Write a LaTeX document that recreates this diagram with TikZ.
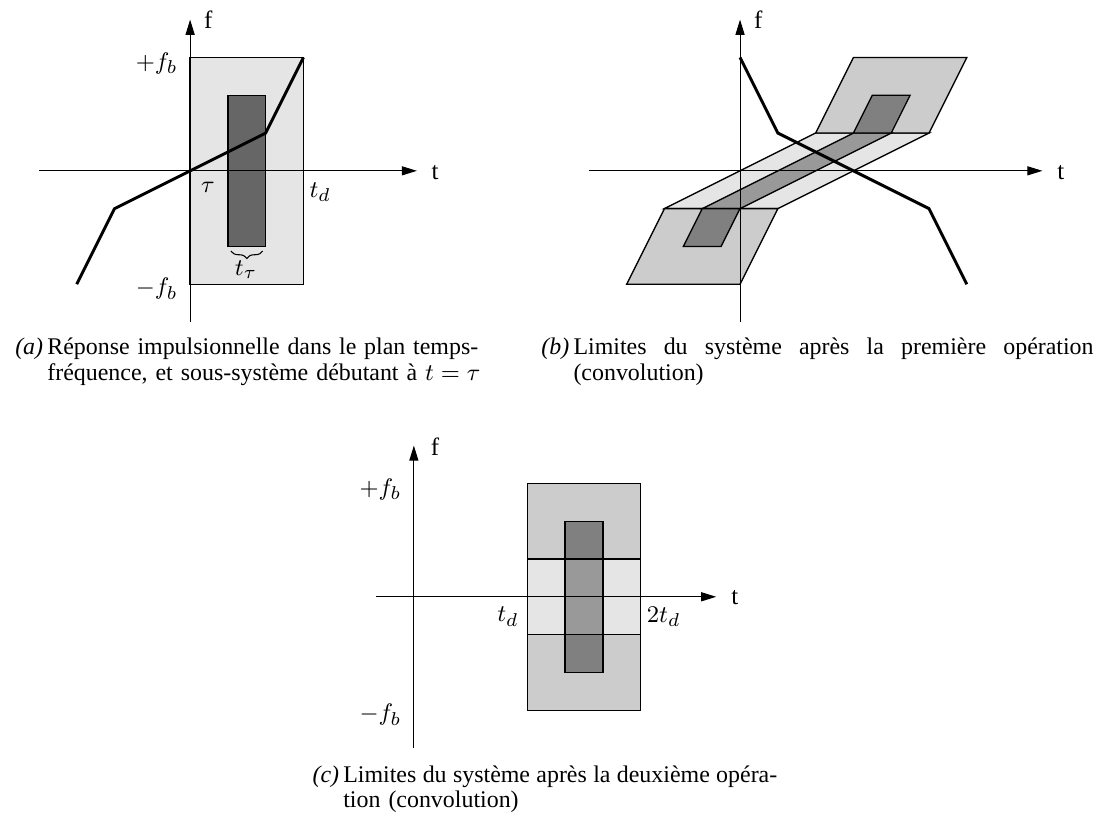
\documentclass[tikz,border=0pt]{standalone}
\usepackage{fontspec}
\setmainfont{Liberation Serif}
\usetikzlibrary{arrows.meta, decorations.pathreplacing}
\definecolor{bandgray}{gray}{0.9}
\definecolor{midgray}{gray}{0.8}
\definecolor{stripgray}{gray}{0.6}
\definecolor{darkgray}{gray}{0.5}
\definecolor{deepgray}{gray}{0.4}
\newcommand{\fullline}[2]{\makebox[#1][s]{\spaceskip=0pt\xspaceskip=0pt\relax #2}}

\begin{document}
\begin{tikzpicture}[
    x=0.5cm, y=0.5cm,
    axis/.style={-{Triangle[length=2mm, width=1.2mm]}},
    zone/.style={draw, line width=0.5pt},
    resp/.style={line width=1.1pt},
    lbl/.style={inner sep=1pt, font=\fontsize{9.4}{11}\selectfont},
    captext/.style={inner sep=0pt, anchor=base west, align=left,
                font=\fontsize{9}{9.5}\selectfont},
    captag/.style={inner sep=0pt, anchor=base east,
                font=\fontsize{9}{9.5}\selectfont\itshape}
  ]
  \useasboundingbox (0,0) rectangle (29.13,-21.77);

  \begin{scope}[shift={(5.03,-4.52)}]
    \filldraw[zone, fill=bandgray] (0,-3) rectangle (3,3);
    \filldraw[zone, fill=deepgray] (1,-2) rectangle (2,2);
    \draw[axis] (-4,0) -- (6,0);
    \draw[axis] (0,-4) -- (0,4);
    \draw[resp] (-3,-3) -- (-2,-1) -- (2,1) -- (3,3);
    \draw[decorate, decoration={brace, mirror, amplitude=1mm}]
      (1.08,-2.12) -- (1.92,-2.12);
    \node[lbl] (fa) at (0.48,4) {f};
    \node[lbl] (ta) at (6.48,-0.05) {t};
    \node[lbl, anchor=east] (fbpa) at (-0.25,2.85) {$+f_b$};
    \node[lbl, anchor=east] (fbma) at (-0.25,-3.12) {$-f_b$};
    \node[lbl] (taua) at (0.47,-0.45) {$\tau$};
    \node[lbl] (tda) at (3.44,-0.56) {$t_d$};
    \node[lbl] (ttau) at (1.48,-2.62) {$t_\tau$};
  \end{scope}

  \begin{scope}[shift={(19.58,-4.52)}]
    \filldraw[zone, fill=bandgray] (-2,-1) -- (1,-1) -- (5,1) -- (2,1) -- cycle;
    \filldraw[zone, fill=midgray] (-3,-3) -- (0,-3) -- (1,-1) -- (-2,-1) -- cycle;
    \filldraw[zone, fill=midgray] (2,1) -- (5,1) -- (6,3) -- (3,3) -- cycle;
    \filldraw[zone, fill=stripgray] (-1,-1) -- (0,-1) -- (4,1) -- (3,1) -- cycle;
    \filldraw[zone, fill=darkgray] (-1.5,-2) -- (-0.5,-2) -- (0,-1) -- (-1,-1) -- cycle;
    \filldraw[zone, fill=darkgray] (3,1) -- (4,1) -- (4.5,2) -- (3.5,2) -- cycle;
    \draw[axis] (-4,0) -- (8,0);
    \draw[axis] (0,-4) -- (0,4);
    \draw[resp] (0,3) -- (1,1) -- (5,-1) -- (6,-3);
    \node[lbl] (fb) at (0.48,4) {f};
    \node[lbl] (tb) at (8.49,-0.05) {t};
  \end{scope}

  \begin{scope}[shift={(10.95,-15.79)}]
    \filldraw[zone, fill=midgray] (3,-3) rectangle (6,3);
    \filldraw[zone, fill=bandgray] (3,-1) rectangle (6,1);
    \filldraw[zone, fill=darkgray] (4,-2) rectangle (5,2);
    \filldraw[zone, fill=stripgray] (4,-1) rectangle (5,1);
    \draw[axis] (-1,0) -- (8,0);
    \draw[axis] (0,-4) -- (0,4);
    \node[lbl] (fc) at (0.56,3.97) {f};
    \node[lbl] (tc) at (8.49,-0.03) {t};
    \node[lbl, anchor=east] (fbpc) at (-0.25,2.85) {$+f_b$};
    \node[lbl, anchor=east] (fbmc) at (-0.25,-3.12) {$-f_b$};
    \node[lbl] (tdc) at (2.49,-0.53) {$t_d$};
    \node[lbl] (tdtwoc) at (6.61,-0.53) {$2t_d$};
  \end{scope}

  \node[captext, text width=5.74cm] (capa) at (1.24,-9.39)
    {\fullline{5.7cm}{Réponse impulsionnelle dans le plan temps-}\\
     fréquence, et sous-système débutant à \mbox{$t = \tau$}};
  \node[captag] (taga) at ([xshift=-1.2pt]capa.base west) {(a)};
  \node[captext, text width=6.88cm] (capb) at (15.16,-9.39)
    {\fullline{6.88cm}{Limites du système après la première opération}\\
     (convolution)};
  \node[captag] (tagb) at ([xshift=-1.2pt]capb.base west) {(b)};
  \node[captext, text width=5.74cm] (capc) at (9.07,-20.69)
    {\fullline{5.74cm}{Limites du système après la deuxième opéra-}\\
     tion (convolution)};
  \node[captag] (tagc) at ([xshift=-1.2pt]capc.base west) {(c)};
\end{tikzpicture}
\end{document}
